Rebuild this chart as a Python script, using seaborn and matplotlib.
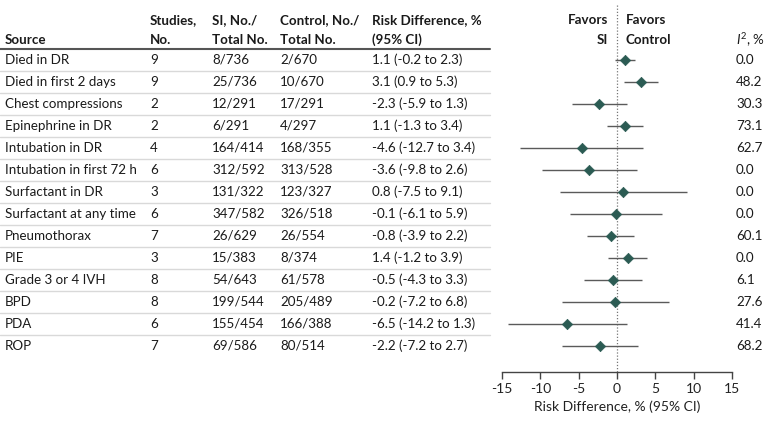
import matplotlib
matplotlib.use("Agg")
import matplotlib.pyplot as plt
import matplotlib.transforms as mtransforms
import seaborn as sns
import pandas as pd

# Table data
sources = ["Died in DR", "Died in first 2 days", "Chest compressions", "Epinephrine in DR",
           "Intubation in DR", "Intubation in first 72 h", "Surfactant in DR",
           "Surfactant at any time", "Pneumothorax", "PIE", "Grade 3 or 4 IVH",
           "BPD", "PDA", "ROP"]
studies = [9, 9, 2, 2, 4, 6, 3, 6, 7, 3, 8, 8, 6, 7]
si_counts = ["8/736", "25/736", "12/291", "6/291", "164/414", "312/592", "131/322",
             "347/582", "26/629", "15/383", "54/643", "199/544", "155/454", "69/586"]
control_counts = ["2/670", "10/670", "17/291", "4/297", "168/355", "313/528", "123/327",
                  "326/518", "26/554", "8/374", "61/578", "205/489", "166/388", "80/514"]
rd = [1.1, 3.1, -2.3, 1.1, -4.6, -3.6, 0.8, -0.1, -0.8, 1.4, -0.5, -0.2, -6.5, -2.2]
ci_low = [-0.2, 0.9, -5.9, -1.3, -12.7, -9.8, -7.5, -6.1, -3.9, -1.2, -4.3, -7.2, -14.2, -7.2]
ci_high = [2.3, 5.3, 1.3, 3.4, 3.4, 2.6, 9.1, 5.9, 2.2, 3.9, 3.3, 6.8, 1.3, 2.7]
i2 = [0.0, 48.2, 30.3, 73.1, 62.7, 0.0, 0.0, 0.0, 60.1, 0.0, 6.1, 27.6, 41.4, 68.2]
x_ticks = [-15, -10, -5, 0, 5, 10, 15]

df = pd.DataFrame({"source": sources, "rd": rd, "lo": ci_low, "hi": ci_high,
                   "row": range(len(sources))})

sns.set_style("white")
plt.rcParams["font.family"] = ["Lato", "DejaVu Sans"]
plt.rcParams["mathtext.fontset"] = "custom"
plt.rcParams["mathtext.it"] = "Lato:italic"
plt.rcParams["mathtext.rm"] = "Lato"

W, H = 780, 425
fig = plt.figure(figsize=(7.8, 4.25), dpi=100)

n = len(sources)
y_top_px, y_bot_px = 49, 372
row0_px, step_px = 60, 22
ylim_top = (y_top_px - row0_px) / step_px
ylim_bot = (y_bot_px - row0_px) / step_px
ax = fig.add_axes([502 / W, 1 - y_bot_px / H, 230 / W, (y_bot_px - y_top_px) / H])

teal = "#2b5b53"
line_col = "#5a5a5a"
ax.hlines(df["row"], df["lo"], df["hi"], color=line_col, lw=1.0, zorder=2)
sns.scatterplot(data=df, x="rd", y="row", marker="D", s=28, color=teal,
                edgecolor=teal, linewidth=0.5, ax=ax, zorder=3, legend=False)

fs = 9.6
ax.set_xlim(-15, 15)
ax.set_ylim(ylim_bot, ylim_top)
ax.set_xticks(x_ticks)
ax.set_xticklabels([str(t) for t in x_ticks], fontsize=fs + 0.4, color="#222222")
ax.set_yticks([])
ax.set_ylabel("")
ax.set_xlabel("Risk Difference, % (95% CI)", fontsize=fs + 0.4, color="#222222",
              labelpad=4)
for s in ["top", "right", "left"]:
    ax.spines[s].set_visible(False)
ax.spines["bottom"].set_color("#444444")
ax.spines["bottom"].set_linewidth(1.0)
ax.tick_params(axis="x", direction="out", length=5, width=1.0, color="#444444", pad=3,
               bottom=True)

# dotted null line reaching into the header
y_head = (5 - row0_px) / step_px
ax.plot([0, 0], [y_head, ylim_bot], ls=(0, (1, 1.5)), color="#777777", lw=0.9,
        clip_on=False, zorder=1)

# table text: x in figure coords, y in data rows
trans = mtransforms.blended_transform_factory(fig.transFigure, ax.transData)
col_x = {"src": 5, "stud": 150, "si": 212, "ctl": 280, "rd": 372, "i2": 736}
txt = "#1a1a1a"
for i in range(n):
    ax.text(col_x["src"] / W, i, sources[i], transform=trans, ha="left", va="center",
            fontsize=fs, color=txt)
    ax.text(col_x["stud"] / W, i, str(studies[i]), transform=trans, ha="left", va="center",
            fontsize=fs, color=txt)
    ax.text(col_x["si"] / W, i, si_counts[i], transform=trans, ha="left", va="center",
            fontsize=fs, color=txt)
    ax.text(col_x["ctl"] / W, i, control_counts[i], transform=trans, ha="left",
            va="center", fontsize=fs, color=txt)
    label = f"{rd[i]:.1f} ({ci_low[i]:.1f} to {ci_high[i]:.1f})"
    ax.text(col_x["rd"] / W, i, label, transform=trans, ha="left", va="center",
            fontsize=fs, color=txt)
    ax.text(col_x["i2"] / W, i, f"{i2[i]:.1f}", transform=trans, ha="left", va="center",
            fontsize=fs, color=txt)
    if i < n - 1:
        ax.plot([0, 490 / W], [i + 0.5, i + 0.5], transform=trans, color="#d9d9d9",
                lw=1.0, clip_on=False)

# header row
ax.plot([0, 490 / W], [ylim_top, ylim_top], transform=trans, color="#555555", lw=1.5,
        clip_on=False)
hy1 = (20 - row0_px) / step_px
hy2 = (40 - row0_px) / step_px
hk = dict(transform=trans, va="center", fontsize=fs, color=txt, fontweight="bold")
ax.text(col_x["src"] / W, hy2, "Source", ha="left", **hk)
ax.text(col_x["stud"] / W, hy1, "Studies,", ha="left", **hk)
ax.text(col_x["stud"] / W, hy2, "No.", ha="left", **hk)
ax.text(col_x["si"] / W, hy1, "SI, No./", ha="left", **hk)
ax.text(col_x["si"] / W, hy2, "Total No.", ha="left", **hk)
ax.text(col_x["ctl"] / W, hy1, "Control, No./", ha="left", **hk)
ax.text(col_x["ctl"] / W, hy2, "Total No.", ha="left", **hk)
ax.text(col_x["rd"] / W, hy1, "Risk Difference, %", ha="left", **hk)
ax.text(col_x["rd"] / W, hy2, "(95% CI)", ha="left", **hk)
ax.text(608 / W, hy1, "Favors", ha="right", **hk)
ax.text(608 / W, hy2, "SI", ha="right", **hk)
ax.text(626 / W, hy1, "Favors", ha="left", **hk)
ax.text(626 / W, hy2, "Control", ha="left", **hk)
ax.text(736 / W, hy2, r"$\mathit{I}^{2}$, %", ha="left", transform=trans, va="center",
        fontsize=fs, color=txt)

fig.savefig("out.png", dpi=100)
